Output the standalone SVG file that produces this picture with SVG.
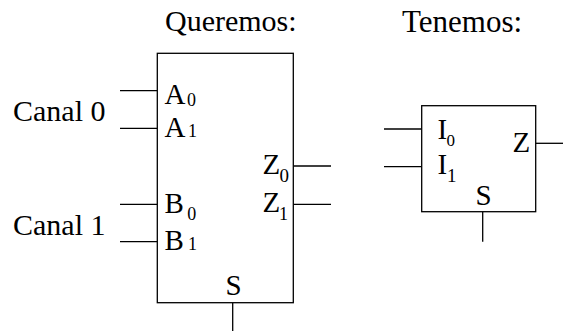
<svg xmlns="http://www.w3.org/2000/svg" width="563" height="331" viewBox="0 0 563 331">
<style>
text{font-family:"Liberation Serif","Times New Roman",serif;fill:#000}
.h{font-size:30px}
.c{font-size:30px}
.l{font-size:29px}
.s{font-size:18px}
.box{fill:#fff;stroke:#000;stroke-width:1.3}
.w{stroke:#000;stroke-width:1.3;fill:none}
</style>
<rect width="563" height="331" fill="#fff"/>
<g id="titles">
<text class="h" x="165" y="31">Queremos:</text>
<text class="h" x="402" y="31.5" style="font-size:31px">Tenemos:</text>
</g>
<g id="canal0"><text class="c" x="13" y="121">Canal 0</text></g>
<g id="canal1"><text class="c" x="13" y="235">Canal 1</text></g>
<g id="connectors">
<line class="w" x1="120" y1="90.7" x2="157.3" y2="90.7"/>
<line class="w" x1="120" y1="128.3" x2="157.3" y2="128.3"/>
<line class="w" x1="120" y1="204.3" x2="157.3" y2="204.3"/>
<line class="w" x1="120" y1="241.7" x2="157.3" y2="241.7"/>
<line class="w" x1="293.3" y1="166" x2="331" y2="166"/>
<line class="w" x1="293.3" y1="204.3" x2="331" y2="204.3"/>
<line class="w" x1="232.7" y1="302.7" x2="232.7" y2="331"/>
<line class="w" x1="384" y1="129" x2="421.7" y2="129"/>
<line class="w" x1="384" y1="166.7" x2="421.7" y2="166.7"/>
<line class="w" x1="535.7" y1="143.3" x2="563" y2="143.3"/>
<line class="w" x1="482.7" y1="211.7" x2="482.7" y2="241.7"/>
</g>
<g id="mux4">
<rect class="box" x="157.3" y="53.3" width="136" height="249.4"/>
<text class="l" x="164.5" y="104">A</text><text class="s" x="187" y="106" style="font-size:18px">0</text>
<text class="l" x="164.5" y="137">A</text><text class="s" x="188" y="137" style="font-size:18px">1</text>
<text class="l" x="164.5" y="212.5">B</text><text class="s" x="187.3" y="220">0</text>
<text class="l" x="164.5" y="250">B</text><text class="s" x="188" y="250">1</text>
<text class="l" x="262.5" y="174.3">Z</text><text class="s" x="279.5" y="181.7" style="font-size:19px">0</text>
<text class="l" x="262.5" y="212.3">Z</text><text class="s" x="279" y="220">1</text>
<text class="l" x="225.5" y="295">S</text>
</g>
<g id="mux2">
<rect class="box" x="421.7" y="105.7" width="114" height="106"/>
<text class="l" x="437.5" y="139">I</text><text class="s" x="446.5" y="145.5" style="font-size:17px">0</text>
<text class="l" x="437.5" y="174">I</text><text class="s" x="447" y="182" style="font-size:19px">1</text>
<text class="l" x="512.5" y="152">Z</text>
<text class="l" x="475.5" y="205">S</text>
</g>
</svg>
